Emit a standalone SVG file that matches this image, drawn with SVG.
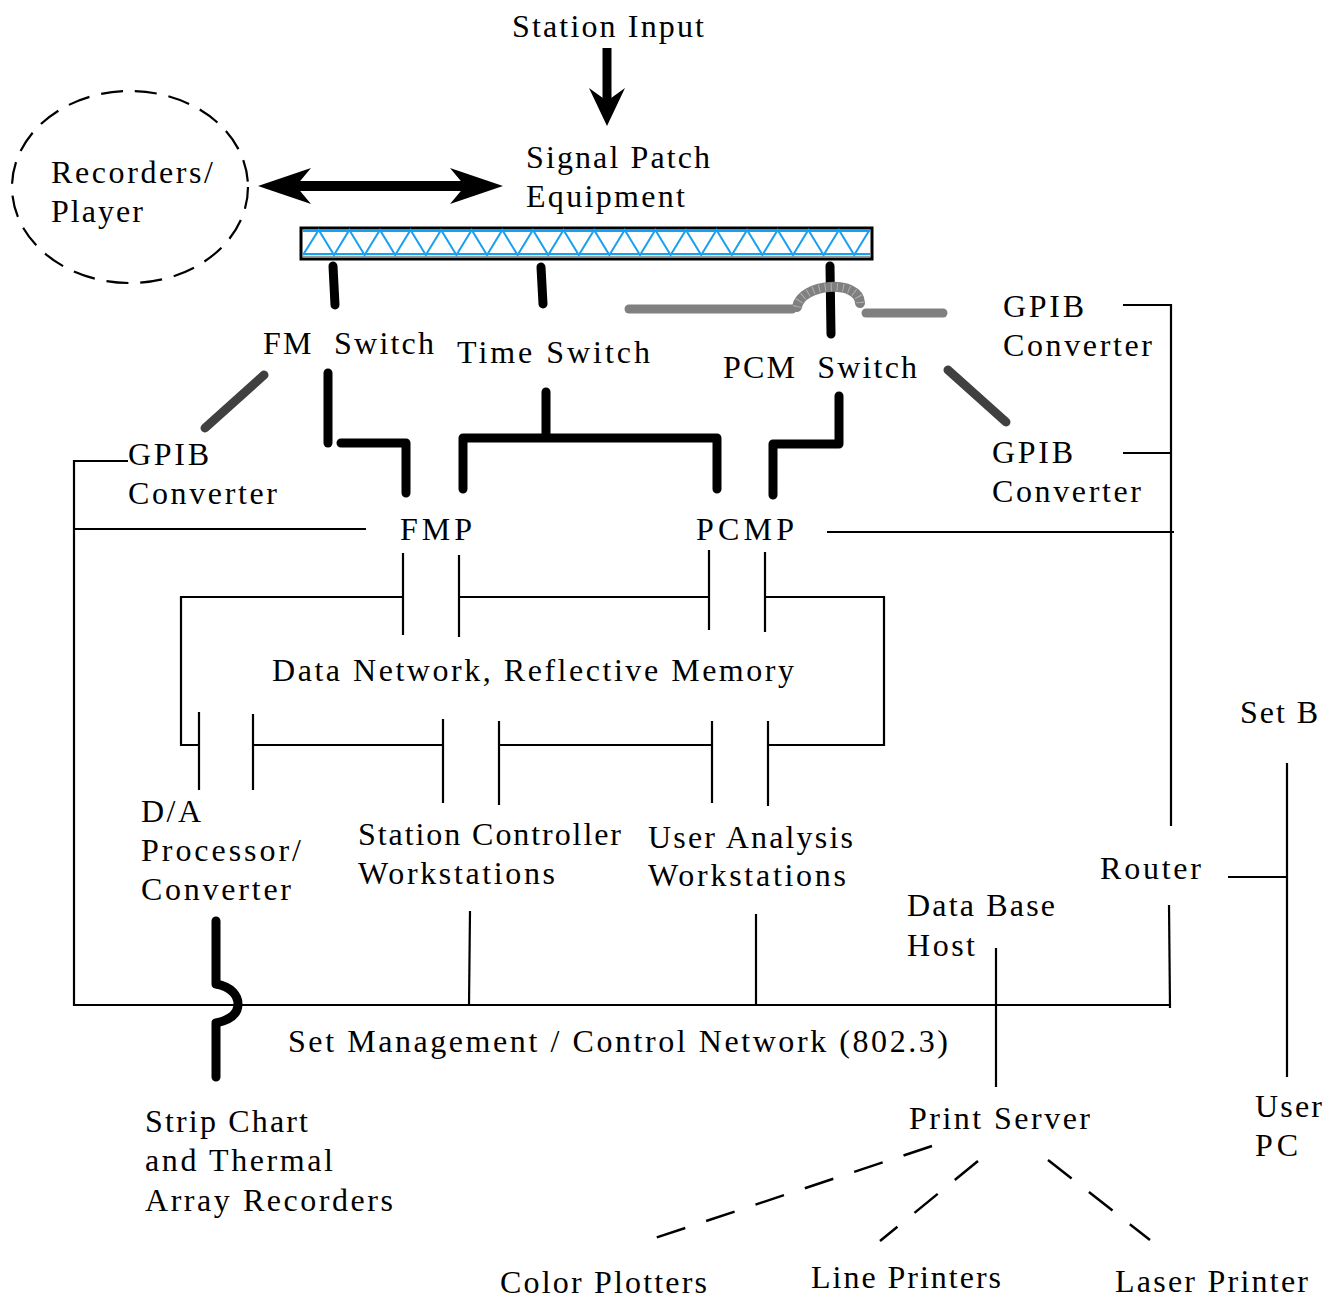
<svg xmlns="http://www.w3.org/2000/svg" width="1338" height="1299" viewBox="0 0 1338 1299">
<style>
text{font-family:"Liberation Serif","Times New Roman",serif;font-size:32px;fill:#000;white-space:pre}
.thin{stroke:#000;stroke-width:2.2;fill:none}
.thick{stroke:#000;stroke-width:9;fill:none;stroke-linecap:round;stroke-linejoin:round}
.gray{stroke:#404040;stroke-width:9;fill:none;stroke-linecap:round}
.cable{stroke:#808080;stroke-width:9;fill:none;stroke-linecap:round}
.dash{stroke:#000;stroke-width:2.5;fill:none;stroke-dasharray:30 22}
</style>
<rect width="1338" height="1299" fill="#fff"/>

<g id="station-input"><text x="512" y="37" textLength="192" lengthAdjust="spacing">Station Input</text></g>
<g id="recorders">
<ellipse cx="130" cy="187" rx="118" ry="96" fill="none" stroke="#000" stroke-width="2.2" stroke-dasharray="22 12"/>
<text x="51" y="183" textLength="162" lengthAdjust="spacing">Recorders/</text><text x="51" y="222" textLength="92" lengthAdjust="spacing">Player</text>
</g>
<g id="signal-patch">
<text x="526" y="168" textLength="184" lengthAdjust="spacing">Signal Patch</text><text x="526" y="207" textLength="159" lengthAdjust="spacing">Equipment</text>
<rect x="301" y="228" width="571" height="31" fill="#fff" stroke="#000" stroke-width="3"/>
<line x1="303" y1="231" x2="870" y2="231" stroke="#1aa0f0" stroke-width="2"/>
<line x1="303" y1="254" x2="870" y2="254" stroke="#1aa0f0" stroke-width="2"/>
<line x1="303" y1="256.5" x2="870" y2="256.5" stroke="#999" stroke-width="1.5"/>
<polyline fill="none" stroke="#1aa0f0" stroke-width="2" points="303,255 318.7,230 334,255 349.3,230 364.6,255 379.9,230 395.2,255 410.5,230 425.8,255 441.1,230 456.4,255 471.7,230 487,255 502.3,230 517.6,255 532.9,230 548.2,255 563.5,230 578.8,255 594.1,230 609.4,255 624.7,230 640,255 655.3,230 670.6,255 685.9,230 701.2,255 716.5,230 731.8,255 747.1,230 762.4,255 777.7,230 793,255 808.3,230 823.6,255 838.9,230 854.2,255 869.5,230"/>
</g>
<g id="fm-switch"><text x="263" y="354" textLength="171" lengthAdjust="spacing">FM  Switch</text></g>
<g id="time-switch"><text x="457" y="363" textLength="193" lengthAdjust="spacing">Time Switch</text></g>
<g id="pcm-switch"><text x="723" y="378" textLength="194" lengthAdjust="spacing">PCM  Switch</text></g>
<g id="gpib-left"><text x="128" y="465" textLength="81" lengthAdjust="spacing">GPIB</text><text x="128" y="504" textLength="149" lengthAdjust="spacing">Converter</text></g>
<g id="gpib-top-right"><text x="1003" y="317" textLength="81" lengthAdjust="spacing">GPIB</text><text x="1003" y="356" textLength="149" lengthAdjust="spacing">Converter</text></g>
<g id="gpib-right"><text x="992" y="463" textLength="81" lengthAdjust="spacing">GPIB</text><text x="992" y="502" textLength="149" lengthAdjust="spacing">Converter</text></g>
<g id="fmp"><text x="400" y="540" textLength="72" lengthAdjust="spacing">FMP</text></g>
<g id="pcmp"><text x="696" y="540" textLength="98" lengthAdjust="spacing">PCMP</text></g>
<g id="data-network"><text x="272" y="681" textLength="522" lengthAdjust="spacing">Data Network, Reflective Memory</text></g>
<g id="da-processor"><text x="141" y="822" textLength="60" lengthAdjust="spacing">D/A</text><text x="141" y="861" textLength="160" lengthAdjust="spacing">Processor/</text><text x="141" y="900" textLength="150" lengthAdjust="spacing">Converter</text></g>
<g id="station-controller"><text x="358" y="845" textLength="263" lengthAdjust="spacing">Station Controller</text><text x="358" y="884" textLength="197" lengthAdjust="spacing">Workstations</text></g>
<g id="user-analysis"><text x="648" y="848" textLength="205" lengthAdjust="spacing">User Analysis</text><text x="648" y="886" textLength="198" lengthAdjust="spacing">Workstations</text></g>
<g id="database-host"><text x="907" y="916" textLength="148" lengthAdjust="spacing">Data Base</text><text x="907" y="956" textLength="68" lengthAdjust="spacing">Host</text></g>
<g id="router"><text x="1100" y="879" textLength="101" lengthAdjust="spacing">Router</text></g>
<g id="set-b"><text x="1240" y="723" textLength="78" lengthAdjust="spacing">Set B</text></g>
<g id="user-pc"><text x="1255" y="1117" textLength="67" lengthAdjust="spacing">User</text><text x="1255" y="1156" textLength="43" lengthAdjust="spacing">PC</text></g>
<g id="control-network"><text x="288" y="1052" textLength="660" lengthAdjust="spacing">Set Management / Control Network (802.3)</text></g>
<g id="strip-chart"><text x="145" y="1132" textLength="163" lengthAdjust="spacing">Strip Chart</text><text x="145" y="1171" textLength="188" lengthAdjust="spacing">and Thermal</text><text x="145" y="1211" textLength="248" lengthAdjust="spacing">Array Recorders</text></g>
<g id="print-server"><text x="909" y="1129" textLength="181" lengthAdjust="spacing">Print Server</text></g>
<g id="color-plotters"><text x="500" y="1293" textLength="207" lengthAdjust="spacing">Color Plotters</text></g>
<g id="line-printers"><text x="811" y="1288" textLength="190" lengthAdjust="spacing">Line Printers</text></g>
<g id="laser-printer"><text x="1115" y="1292" textLength="193" lengthAdjust="spacing">Laser Printer</text></g>

<g id="connectors">
<line x1="294" y1="186" x2="468" y2="186" stroke="#000" stroke-width="10"/>
<polygon points="258,186 311,168 296,186 311,204" fill="#000"/>
<polygon points="503,186 450,168 465,186 450,204" fill="#000"/>
<line x1="607" y1="48" x2="607" y2="104" stroke="#000" stroke-width="9"/>
<polygon points="607,126 589,88 607,101 625,88" fill="#000"/>
<line class="thick" x1="333" y1="266" x2="335" y2="305"/>
<line class="thick" x1="541" y1="267" x2="543" y2="304"/>
<line class="thick" x1="830" y1="266" x2="831" y2="334"/>
<line class="cable" x1="629" y1="309" x2="792" y2="309"/>
<path d="M797,307 C801,283 859,279 860,303" fill="none" stroke="#808080" stroke-width="10" stroke-linecap="round"/>
<path d="M797,307 C801,283 859,279 860,303" fill="none" stroke="#b0b0b0" stroke-width="8" stroke-dasharray="1 5"/>
<line class="cable" x1="866" y1="313" x2="943" y2="313"/>
<line class="gray" x1="264" y1="375" x2="205" y2="428"/>
<line class="gray" x1="948" y1="370" x2="1006" y2="422"/>
<line class="thick" x1="328" y1="373" x2="328" y2="443"/>
<polyline class="thick" points="341,443 406,443 406,493"/>
<line class="thick" x1="546" y1="392" x2="546" y2="435"/>
<polyline class="thick" points="463,489 463,438 717,438 717,489"/>
<polyline class="thick" points="839,396 839,444 773,444 773,495"/>
<polyline class="thin" points="128,461 74,461 74,1005 1170,1005"/>
<line class="thin" x1="74" y1="529" x2="366" y2="529"/>
<line class="thin" x1="470" y1="911" x2="469" y2="1005"/>
<line class="thin" x1="756" y1="914" x2="756" y2="1005"/>
<line class="thin" x1="1169" y1="905" x2="1170" y2="1008"/>
<line class="thin" x1="996" y1="948" x2="996" y2="1087"/>
<polyline class="thin" points="1123,305 1171,305 1171,826"/>
<line class="thin" x1="1123" y1="453" x2="1171" y2="453"/>
<line class="thin" x1="827" y1="532" x2="1174" y2="532"/>
<line class="thin" x1="1228" y1="877" x2="1287" y2="877"/>
<line class="thin" x1="1287" y1="763" x2="1287" y2="1077"/>
<line class="thin" x1="403" y1="553" x2="403" y2="635"/>
<line class="thin" x1="459" y1="555" x2="459" y2="637"/>
<line class="thin" x1="709" y1="550" x2="709" y2="630"/>
<line class="thin" x1="765" y1="552" x2="765" y2="632"/>
<polyline class="thin" points="403,597 181,597 181,745 199,745"/>
<line class="thin" x1="459" y1="597" x2="709" y2="597"/>
<polyline class="thin" points="765,597 884,597 884,745 768,745"/>
<line class="thin" x1="253" y1="745" x2="443" y2="745"/>
<line class="thin" x1="499" y1="745" x2="712" y2="745"/>
<line class="thin" x1="199" y1="712" x2="199" y2="790"/>
<line class="thin" x1="253" y1="714" x2="253" y2="790"/>
<line class="thin" x1="443" y1="719" x2="443" y2="803"/>
<line class="thin" x1="499" y1="721" x2="499" y2="805"/>
<line class="thin" x1="712" y1="721" x2="712" y2="803"/>
<line class="thin" x1="768" y1="721" x2="768" y2="806"/>
<path class="thick" d="M216,921 L216,984 C232,987 238,996 238,1004 C238,1014 230,1020 216,1023 L216,1077"/>
<line class="dash" x1="932" y1="1146" x2="652" y2="1239"/>
<line class="dash" x1="978" y1="1161" x2="880" y2="1241"/>
<line class="dash" x1="1048" y1="1160" x2="1150" y2="1240"/>
</g>
</svg>
